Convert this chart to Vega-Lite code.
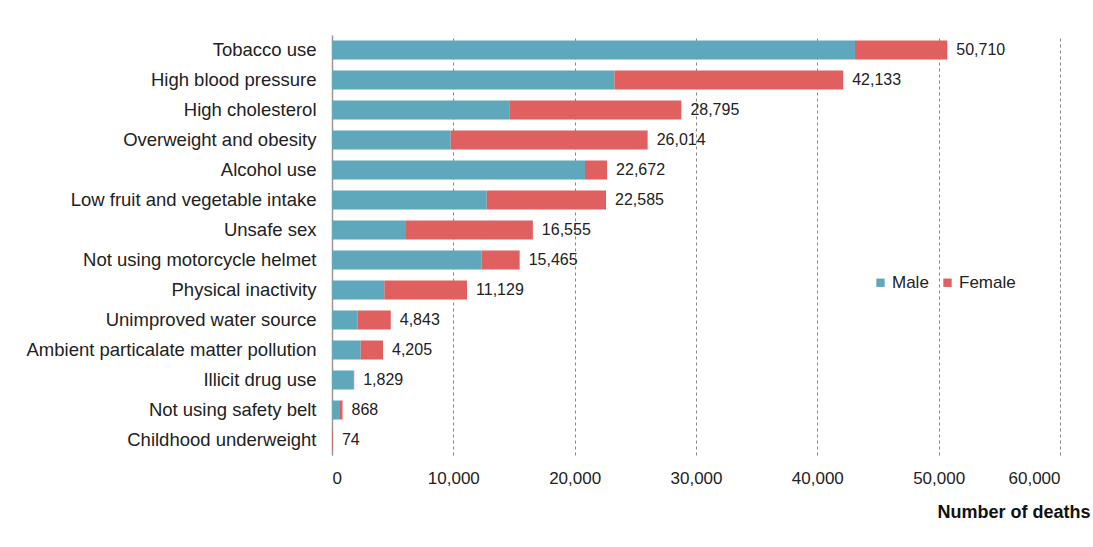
{
  "$schema": "https://vega.github.io/schema/vega-lite/v6.json",
  "autosize": {"type": "none"},
  "width": 728,
  "height": 420,
  "padding": {"left": 332, "top": 35, "right": 33, "bottom": 92},
  "background": "white",
  "config": {
    "font": "Liberation Sans",
    "view": {"stroke": null},
    "axis": {"labelColor": "#222", "titleColor": "#111", "labelFont": "Liberation Sans", "titleFont": "Liberation Sans"}
  },
  "datasets": {
    "deaths": [
      {"factor": "Tobacco use", "sex": "Male", "deaths": 43100},
      {"factor": "Tobacco use", "sex": "Female", "deaths": 7610},
      {"factor": "High blood pressure", "sex": "Male", "deaths": 23270},
      {"factor": "High blood pressure", "sex": "Female", "deaths": 18863},
      {"factor": "High cholesterol", "sex": "Male", "deaths": 14610},
      {"factor": "High cholesterol", "sex": "Female", "deaths": 14185},
      {"factor": "Overweight and obesity", "sex": "Male", "deaths": 9780},
      {"factor": "Overweight and obesity", "sex": "Female", "deaths": 16234},
      {"factor": "Alcohol use", "sex": "Male", "deaths": 20850},
      {"factor": "Alcohol use", "sex": "Female", "deaths": 1822},
      {"factor": "Low fruit and vegetable intake", "sex": "Male", "deaths": 12750},
      {"factor": "Low fruit and vegetable intake", "sex": "Female", "deaths": 9835},
      {"factor": "Unsafe sex", "sex": "Male", "deaths": 6100},
      {"factor": "Unsafe sex", "sex": "Female", "deaths": 10455},
      {"factor": "Not using motorcycle helmet", "sex": "Male", "deaths": 12340},
      {"factor": "Not using motorcycle helmet", "sex": "Female", "deaths": 3125},
      {"factor": "Physical inactivity", "sex": "Male", "deaths": 4310},
      {"factor": "Physical inactivity", "sex": "Female", "deaths": 6819},
      {"factor": "Unimproved water source", "sex": "Male", "deaths": 2120},
      {"factor": "Unimproved water source", "sex": "Female", "deaths": 2723},
      {"factor": "Ambient particalate matter pollution", "sex": "Male", "deaths": 2360},
      {"factor": "Ambient particalate matter pollution", "sex": "Female", "deaths": 1845},
      {"factor": "Illicit drug use", "sex": "Male", "deaths": 1800},
      {"factor": "Illicit drug use", "sex": "Female", "deaths": 29},
      {"factor": "Not using safety belt", "sex": "Male", "deaths": 660},
      {"factor": "Not using safety belt", "sex": "Female", "deaths": 208},
      {"factor": "Childhood underweight", "sex": "Male", "deaths": 20},
      {"factor": "Childhood underweight", "sex": "Female", "deaths": 54}
    ],
    "totals": [
      {"factor": "Tobacco use", "total": 50710},
      {"factor": "High blood pressure", "total": 42133},
      {"factor": "High cholesterol", "total": 28795},
      {"factor": "Overweight and obesity", "total": 26014},
      {"factor": "Alcohol use", "total": 22672},
      {"factor": "Low fruit and vegetable intake", "total": 22585},
      {"factor": "Unsafe sex", "total": 16555},
      {"factor": "Not using motorcycle helmet", "total": 15465},
      {"factor": "Physical inactivity", "total": 11129},
      {"factor": "Unimproved water source", "total": 4843},
      {"factor": "Ambient particalate matter pollution", "total": 4205},
      {"factor": "Illicit drug use", "total": 1829},
      {"factor": "Not using safety belt", "total": 868},
      {"factor": "Childhood underweight", "total": 74}
    ]
  },
  "layer": [
    {
      "data": {"name": "deaths"},
      "mark": {"type": "bar", "size": 19},
      "encoding": {
        "y": {
          "field": "factor", "type": "nominal",
          "scale": {"domain": ["Tobacco use", "High blood pressure", "High cholesterol", "Overweight and obesity", "Alcohol use", "Low fruit and vegetable intake", "Unsafe sex", "Not using motorcycle helmet", "Physical inactivity", "Unimproved water source", "Ambient particalate matter pollution", "Illicit drug use", "Not using safety belt", "Childhood underweight"], "paddingInner": 0.35, "paddingOuter": 0.175},
          "axis": {"title": null, "ticks": false, "domain": true, "domainColor": "#999", "domainWidth": 1.5, "labelFontSize": 18.5, "labelPadding": 16, "labelLimit": 400, "grid": false}
        },
        "x": {
          "field": "deaths", "type": "quantitative", "stack": "zero",
          "scale": {"domain": [0, 60000], "nice": false},
          "axis": {
            "values": [0, 10000, 20000, 30000, 40000, 50000, 60000],
            "format": ",d", "labelFontSize": 17, "labelPadding": 15,
            "ticks": false, "domain": false,
            "grid": true, "gridDash": [3, 3], "gridColor": "#888", "gridWidth": 1,
            "title": "Number of deaths", "titleFontSize": 18, "titleFontWeight": "bold",
            "titleAlign": "right", "titleAnchor": "end", "titleX": 758, "titleY": 57, "titleBaseline": "middle"
          }
        },
        "color": {
          "field": "sex", "type": "nominal",
          "scale": {"domain": ["Male", "Female"], "range": ["#5FA7BA", "#E0605F"]},
          "legend": {"title": null, "orient": "none", "legendX": 540, "legendY": 239, "direction": "horizontal", "symbolType": "square", "symbolSize": 70, "labelFontSize": 17, "labelColor": "#222", "labelOffset": 3, "columnPadding": 10, "symbolOpacity": 1, "symbolStrokeWidth": 0}
        },
        "order": {"field": "sex", "sort": "descending"}
      }
    },
    {
      "data": {"name": "totals"},
      "mark": {"type": "text", "align": "left", "baseline": "middle", "dx": 9, "fontSize": 16, "color": "#222"},
      "encoding": {
        "y": {"field": "factor", "type": "nominal"},
        "x": {"field": "total", "type": "quantitative"},
        "text": {"field": "total", "type": "quantitative", "format": ",d"}
      }
    }
  ]
}
